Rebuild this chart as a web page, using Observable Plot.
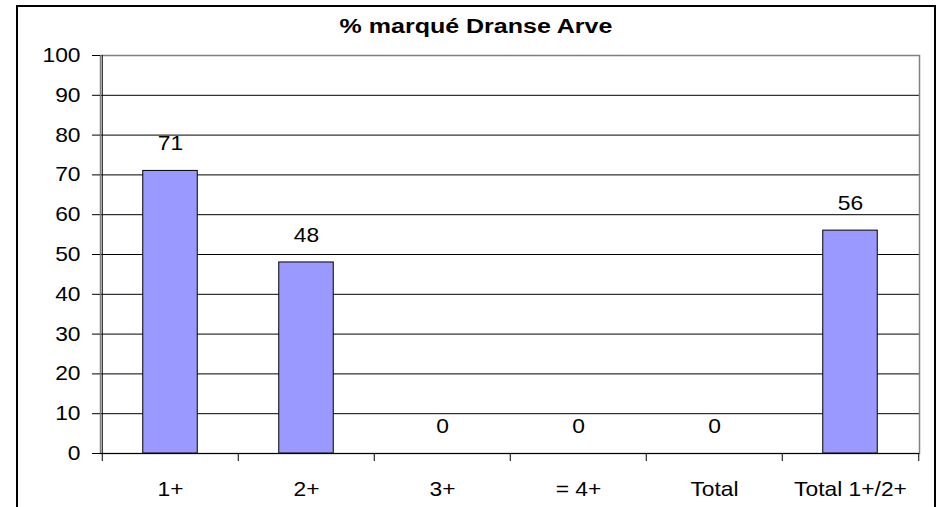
<!DOCTYPE html>
<html>
<head>
<meta charset="utf-8">
<script src="https://cdn.jsdelivr.net/npm/d3@7"></script>
<script src="https://cdn.jsdelivr.net/npm/@observablehq/plot@0.6"></script>
<style>
  html, body { margin: 0; padding: 0; background: #fff; }
  #wrap { position: relative; width: 941px; height: 507px; overflow: hidden; }
  #title {
    position: absolute; left: 0; top: 16px; width: 952px; text-align: center;
    font-family: "Liberation Sans", Arial, sans-serif; font-weight: bold;
    font-size: 20px; line-height: 20px; color: #000;
    transform: scaleX(1.25); transform-origin: 476px 0;
  }
</style>
</head>
<body>
<div id="wrap"><div id="title">% marqué Dranse Arve</div></div>
<script>
const categories = ["1+", "2+", "3+", "= 4+", "Total", "Total 1+/2+"];
const values = [71, 48, 0, 0, 0, 56];
const yTicks = [0, 10, 20, 30, 40, 50, 60, 70, 80, 90, 100];

const data = categories.map((c, i) => ({cat: c, value: values[i]}));

const W = 941, H = 507, mL = 100, mR = 22, mT = 55, mB = 54;
const step = (W - mL - mR) / categories.length;
const plotH = H - mT - mB;
const inset = (step - 55) / 2;

const chart = Plot.plot({
  width: W, height: H,
  marginTop: mT, marginBottom: mB, marginLeft: mL, marginRight: mR,
  style: {
    fontFamily: "'Liberation Sans', Arial, sans-serif",
    fontSize: "20px",
    color: "#000",
    background: "transparent",
    overflow: "visible"
  },
  x: {domain: categories, padding: 0, label: null},
  y: {domain: [0, 100], label: null},
  marks: [
    Plot.ruleY(yTicks.filter(t => t > 0 && t < 100), {stroke: "#000", strokeWidth: 1}),
    Plot.frame({stroke: "#808080", strokeWidth: 1.5}),
    Plot.barY(data.filter(d => d.value > 0), {
      x: "cat", y: "value", fill: "#9999FF", stroke: "#000", strokeWidth: 1,
      insetLeft: inset, insetRight: inset
    }),
    Plot.ruleY([0], {stroke: "#000", strokeWidth: 1}),
    Plot.ruleX([categories[0]], {dx: -step / 2, stroke: "#000", insetBottom: -8}),
    Plot.ruleX(categories.slice(1), {dx: -step / 2, stroke: "#000", insetTop: plotH, insetBottom: -8}),
    Plot.ruleX([categories[categories.length - 1]], {dx: step / 2, stroke: "#000", insetTop: plotH, insetBottom: -8}),
    Plot.axisY({ticks: yTicks, tickSize: 8, tickPadding: 12, label: null, stroke: "#000"}),
    Plot.axisX({tickSize: 0, tickPadding: 28, label: null}),
    Plot.text(data, {x: "cat", y: "value", text: d => String(d.value), dy: -27, fill: "#000"})
  ]
});

const wrap = document.getElementById("wrap");
wrap.insertBefore(chart, wrap.firstChild);
chart.style.position = "absolute";
chart.style.left = "0";
chart.style.top = "0";

const svgEl = chart.tagName.toLowerCase() === "svg" ? chart : chart.querySelector("svg");
d3.select(svgEl).append("rect")
  .attr("x", 17).attr("y", 6).attr("width", 918).attr("height", 540)
  .attr("fill", "none").attr("stroke", "#000").attr("stroke-width", 2);

// Widen glyphs horizontally (the reference text is horizontally stretched)
const sx = 1.14;
svgEl.querySelectorAll("text").forEach(t => {
  const b = t.getBBox();
  const anchor = getComputedStyle(t).textAnchor;
  const cx = anchor === "end" ? b.x + b.width : anchor === "start" ? b.x : b.x + b.width / 2;
  const prev = t.getAttribute("transform") || "";
  t.setAttribute("transform", `${prev} translate(${cx} 0) scale(${sx} 1) translate(${-cx} 0)`.trim());
});
</script>
</body>
</html>
